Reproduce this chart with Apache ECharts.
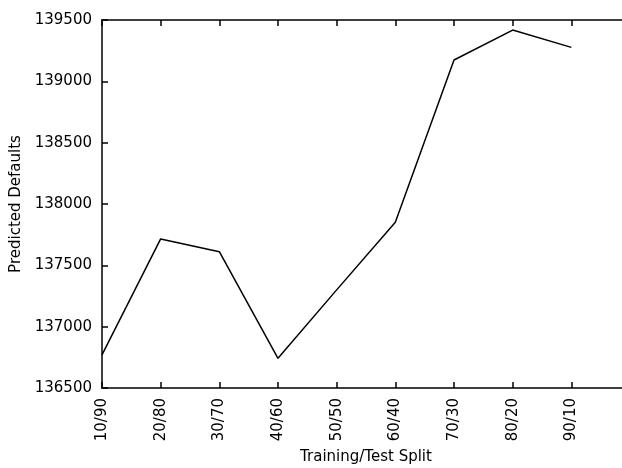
<!DOCTYPE html>
<html>
<head>
<meta charset="utf-8">
<script src="https://cdn.jsdelivr.net/npm/echarts@6/dist/echarts.min.js"></script>
<style>
  html, body { margin: 0; padding: 0; background: #fff; }
  #chart { width: 622px; height: 468px; }
</style>
</head>
<body>
<div id="chart"></div>
<script>
// last slot is an empty category so the axis runs past 90/10
const splits = ["10/90", "20/80", "30/70", "40/60", "50/50", "60/40", "70/30", "80/20", "90/10", ""];
const predictedDefaults = [136770, 137715, 137611, 136742, 137300, 137851, 139174, 139418, 139277];

const chart = echarts.init(document.getElementById("chart"));

const font = "DejaVu Sans";

function ticks() {
  return { show: true, inside: true, length: 6, interval: 0, lineStyle: { color: "#000", width: 1.5, opacity: 1 } };
}

chart.setOption({
  animation: false,
  backgroundColor: "#fff",
  grid: {
    left: 102,
    top: 20,
    width: 528,
    bottom: 80,
    outerBoundsMode: "none",
  },
  xAxis: [
    {
      type: "category",
      data: splits,
      boundaryGap: false,
      name: "Training/Test Split",
      nameLocation: "middle",
      nameGap: 60,
      nameTextStyle: { fontFamily: font, fontSize: 15, color: "#000" },
      axisLine: { show: true, lineStyle: { color: "#000", width: 1.5 } },
      axisTick: ticks(),
      axisLabel: {
        rotate: 90,
        margin: 10,
        fontFamily: font,
        fontSize: 15,
        color: "#000",
        interval: 0,
      },
      splitLine: { show: false },
    },
    {
      type: "category",
      data: splits,
      boundaryGap: false,
      position: "top",
      axisLine: { show: true, lineStyle: { color: "#000", width: 1.5 } },
      axisTick: ticks(),
      axisLabel: { show: false },
      splitLine: { show: false },
    },
  ],
  yAxis: {
    type: "value",
    min: 136500,
    max: 139500,
    interval: 500,
    name: "Predicted Defaults",
    nameLocation: "middle",
    nameGap: 78,
    nameTextStyle: { fontFamily: font, fontSize: 15, color: "#000" },
    axisLine: { show: true, lineStyle: { color: "#000", width: 1.5 } },
    axisTick: ticks(),
    axisLabel: {
      fontFamily: font,
      fontSize: 15,
      color: "#000",
      margin: 10,
      formatter: (v) => String(v),
    },
    splitLine: { show: false },
  },
  series: [
    {
      type: "line",
      data: predictedDefaults,
      symbol: "none",
      lineStyle: { color: "#000", width: 1.5 },
    },
  ],
});
</script>
</body>
</html>
